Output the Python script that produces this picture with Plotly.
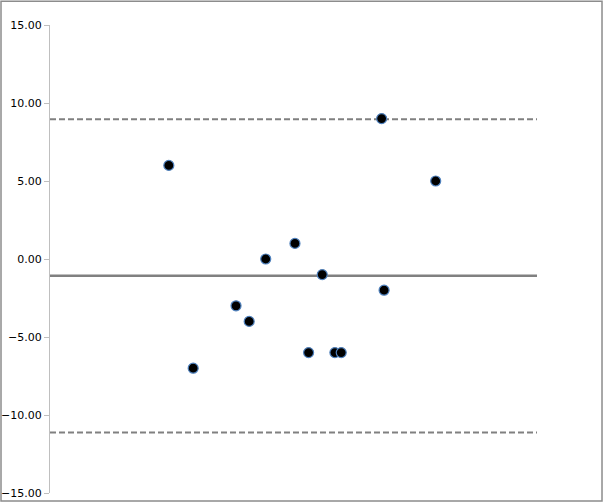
import plotly.graph_objects as go

# --- DATA ---
mean_values = [24.4, 29.4, 38.2, 40.9, 44.3, 50.3, 53.1, 55.9, 58.5, 59.8, 68.1, 68.6, 79.2]
differences = [6, -7, -3, -4, 0, 1, -6, -1, -6, -6, 9, -2, 5]
mean_diff = -1.08
upper_loa = 8.96
lower_loa = -11.12
x_range = [0, 100]
y_ticks = [15, 10, 5, 0, -5, -10, -15]

# --- STYLES ---
LINE_GREY = '#808080'
AXIS_GREY = '#bfbfbf'
BORDER_GREY = '#8c8c8c'
MARKER_EDGE = '#4f81bd'

fig = go.Figure()

# limits of agreement (dashed) and mean difference (solid)
for val in (upper_loa, lower_loa):
    fig.add_trace(go.Scatter(
        x=x_range, y=[val, val], mode='lines',
        line=dict(color=LINE_GREY, width=2, dash='6px,3px'),
        hoverinfo='skip', showlegend=False
    ))
fig.add_trace(go.Scatter(
    x=x_range, y=[mean_diff, mean_diff], mode='lines',
    line=dict(color=LINE_GREY, width=2.5),
    hoverinfo='skip', showlegend=False
))

fig.add_trace(go.Scatter(
    x=mean_values, y=differences, mode='markers',
    marker=dict(size=10, color='black', line=dict(color=MARKER_EDGE, width=1.2)),
    showlegend=False
))

# outer chart border (Excel chart area)
fig.add_shape(
    type='rect', xref='paper', yref='paper',
    x0=-0.1006, x1=1.1335, y0=-0.017, y1=1.051,
    line=dict(color=BORDER_GREY, width=1.5), fillcolor='rgba(0,0,0,0)', layer='below'
)

fig.update_layout(
    width=604, height=503,
    margin=dict(l=50, r=67, t=25, b=10, autoexpand=False),
    plot_bgcolor='white', paper_bgcolor='white',
    font=dict(family='DejaVu Sans', size=11, color='#000000'),
    xaxis=dict(range=x_range, visible=False, showgrid=False, zeroline=False),
    yaxis=dict(
        range=[-15, 15], tickvals=y_ticks, tickformat='.2f',
        showgrid=False, zeroline=False, automargin=False,
        showline=True, linecolor=AXIS_GREY, linewidth=1,
        ticks='outside', ticklen=5, tickcolor=AXIS_GREY,
    ),
)

# drop the browser's default body margin so the figure sits at (0, 0)
fig.write_html("out.html", config={'displayModeBar': False},
               post_script="document.body.style.margin='0';")
